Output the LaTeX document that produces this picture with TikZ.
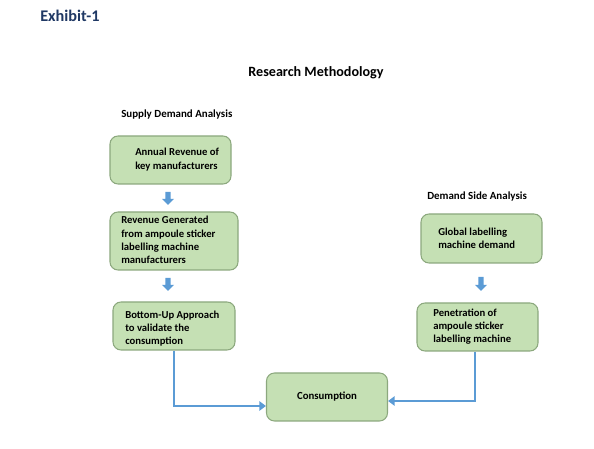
\documentclass[tikz,border=0pt]{standalone}
\usepackage{fontspec}
\setmainfont{Carlito}
\usetikzlibrary{arrows.meta,calc}
\definecolor{boxfill}{RGB}{197,224,180}
\definecolor{boxline}{RGB}{140,168,126}
\definecolor{arrowblue}{RGB}{91,155,213}
\definecolor{navy}{RGB}{31,56,100}
\tikzset{
  box/.style={draw=boxline, line width=0.8pt, fill=boxfill, rounded corners=6pt, inner sep=0pt},
  txt/.style={anchor=west, align=left, font=\bfseries\fontsize{8}{9.9}\selectfont, inner sep=0pt},
  heading/.style={font=\bfseries\fontsize{8.2}{9}\selectfont, inner sep=0pt},
  conn/.style={draw=arrowblue, line width=1.8pt, -{Triangle[width=7pt,length=5pt]}},
  blockarrow/.style={fill=arrowblue, draw=none}
}
\newcommand{\blockarr}[3]{% cx, ytop, ybottom
  \fill[blockarrow] (#1-2.6,#2) -- (#1+2.6,#2) -- (#1+2.6,#3-6) -- (#1+6,#3-6) -- (#1,#3) -- (#1-6,#3-6) -- (#1-2.6,#3-6) -- cycle;}
\begin{document}
\begin{tikzpicture}[x=0.75pt,y=-0.75pt]
\useasboundingbox (0,0) rectangle (594,449);
% titles
\node[font=\bfseries\fontsize{12.2}{14}\selectfont, text=navy, anchor=west, inner sep=0pt] (exh) at (40,16) {Exhibit-1};
\node[font=\bfseries\fontsize{10.6}{12}\selectfont, inner sep=0pt] (title) at (316,73) {Research Methodology};
\node[heading, anchor=west] (sda) at (121,115) {Supply Demand Analysis};
\node[heading, anchor=west] (dsa) at (427,197) {Demand Side Analysis};
% left column
\node[box, minimum width=121*0.75pt, minimum height=48*0.75pt] (b1) at (170.5,160) {};
\node[txt] (t1) at (135,159.5) {Annual Revenue of\\key manufacturers};
\node[box, minimum width=128*0.75pt, minimum height=58*0.75pt] (b2) at (174,241) {};
\node[txt] (t2) at (121,240) {Revenue Generated\\from ampoule sticker\\labelling machine\\manufacturers};
\node[box, minimum width=122*0.75pt, minimum height=48*0.75pt] (b3) at (174,326) {};
\node[txt] (t3) at (125,328.5) {Bottom-Up Approach\\to validate the\\consumption};
% right column
\node[box, minimum width=121*0.75pt, minimum height=49*0.75pt] (r1) at (481.5,238.5) {};
\node[txt] (tr1) at (438,238) {Global labelling\\machine demand};
\node[box, minimum width=121*0.75pt, minimum height=48*0.75pt] (r2) at (477.5,327) {};
\node[txt] (tr2) at (433,326.5) {Penetration of\\ampoule sticker\\labelling machine};
% consumption
\node[box, minimum width=121*0.75pt, minimum height=48*0.75pt, font=\bfseries\fontsize{8.1}{9}\selectfont] (cons) at (327,397) {Consumption};
% block arrows
\blockarr{168}{192}{205}
\blockarr{168}{278}{291}
\blockarr{481}{277}{291}
% connectors
\draw[conn] (b3.south) |- ($(cons.west)+(0,9)$);
\draw[conn] (r2.south -| 475,0) |- ($(cons.east)+(0,4)$);
\end{tikzpicture}
\end{document}
